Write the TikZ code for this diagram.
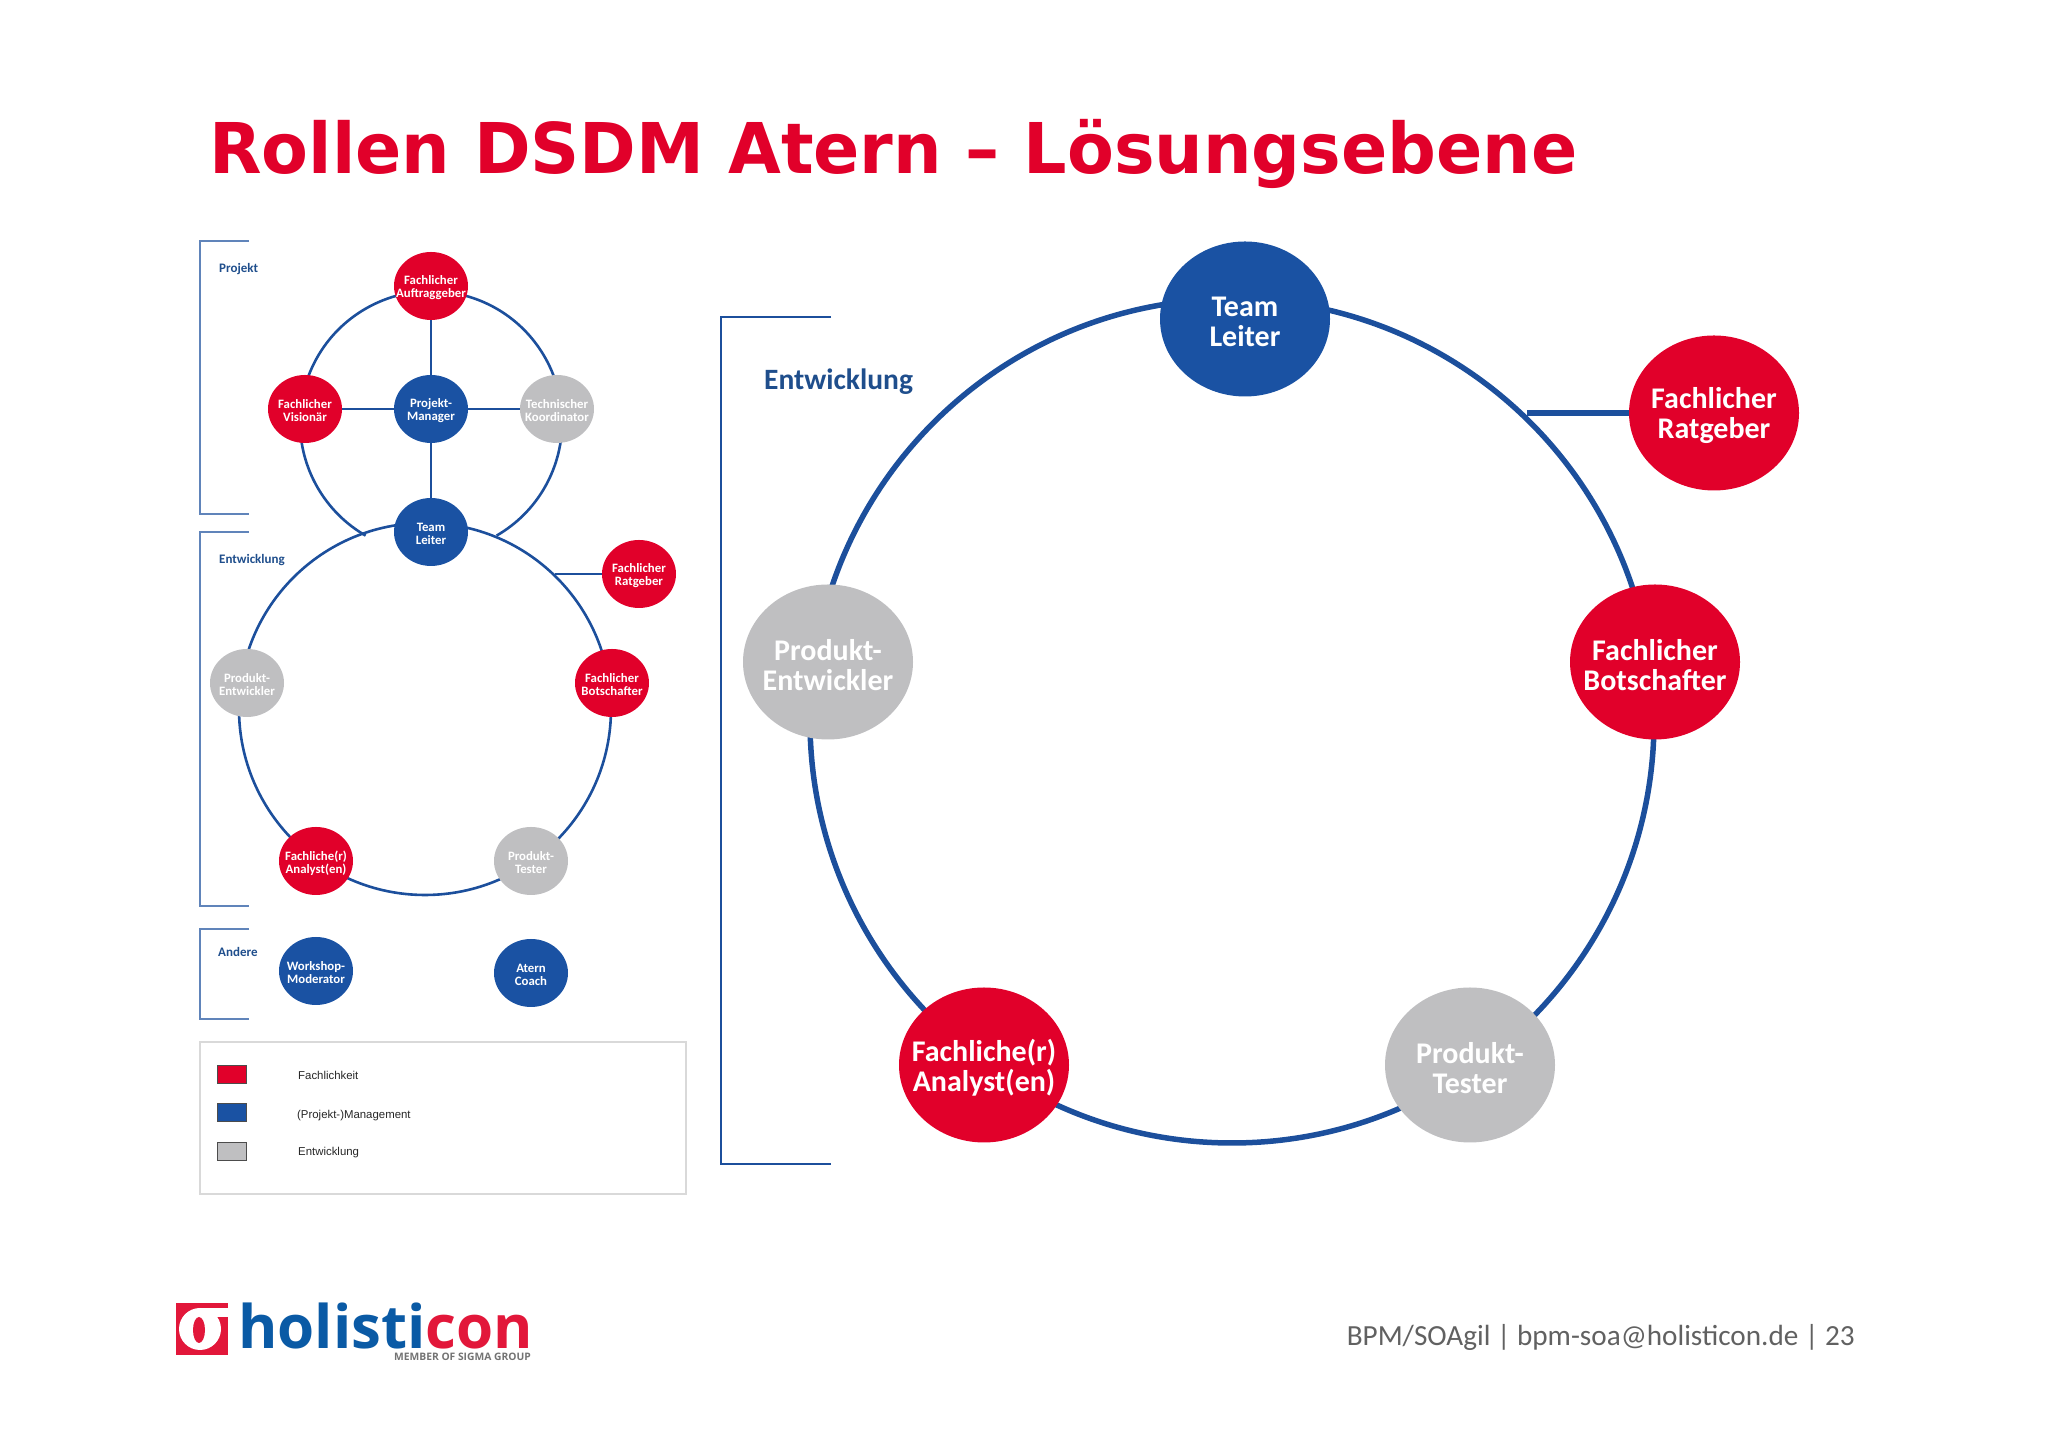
\documentclass[tikz,border=0pt]{standalone}
\usepackage{fontspec}
\setmainfont{Carlito}
\newfontfamily\titlefont[FakeStretch=0.975]{DejaVu Sans}
\newfontfamily\legendfont{Liberation Sans}
\newfontfamily\logofont{Open Sans}
\usetikzlibrary{positioning,shapes.geometric}
\definecolor{holired}{HTML}{E1002A}
\definecolor{holiblue}{HTML}{1A52A3}
\definecolor{holigray}{HTML}{BFBFC1}
\definecolor{ringblue}{HTML}{1C4F9C}
\definecolor{labelblue}{HTML}{1F4E8C}
\definecolor{logoblue}{HTML}{0A5AA5}
\definecolor{logored}{HTML}{E2173A}
\tikzset{
  smallrole/.style={ellipse,inner sep=0pt,minimum width=74pt,minimum height=68pt},
  bigrole/.style={ellipse,inner sep=0pt,minimum width=170pt,minimum height=155pt},
  smalltext/.style={inner sep=0pt,align=center,yshift=-2pt,text=white,font=\fontsize{12.8}{13}\selectfont\bfseries},
  bigtext/.style={inner sep=0pt,align=center,yshift=-3pt,text=white,font=\fontsize{30}{30}\selectfont\bfseries},
  redrole/.style={fill=holired},
  bluerole/.style={fill=holiblue},
  grayrole/.style={fill=holigray},
  smallring/.style={draw=ringblue,line width=2.6pt},
  bigring/.style={draw=ringblue,line width=5.5pt},
  bracket/.style={draw=ringblue!70,line width=1.2pt},
  grouplabel/.style={anchor=west,text=labelblue,font=\fontsize{13}{14}\selectfont\bfseries},
  legendbox/.style={draw=black!70,line width=1pt,minimum width=29pt,minimum height=18pt,inner sep=0pt},
  legendtext/.style={anchor=west,text=black!85,font=\legendfont\fontsize{11.4}{13}\selectfont}
}
\begin{document}
\begin{tikzpicture}[x=1pt,y=1pt]
  \useasboundingbox (0,0) rectangle (2048,1447);

  % title
  \node (title) [anchor=base west,inner sep=0pt,text=holired,font=\titlefont\fontsize{70}{80}\selectfont\bfseries] at (209,1273) {Rollen DSDM Atern – Lösungsebene};

  % small diagram
  \node (uppering) [circle,minimum size=262pt,inner sep=0pt] at (431,1025) {};
  \node (lowering) [circle,smallring,minimum size=372pt,inner sep=0pt] at (425,738) {};
  \draw[smallring] (uppering.-60) arc[start angle=-60,end angle=240,radius=131pt];
  \node[smallrole,redrole,label={[smalltext]center:Fachlicher\\Auftraggeber}] (sauftrag) at (431,1161) {};
  \node[smallrole,redrole,label={[smalltext]center:Fachlicher\\Visionär}] (svision) at (305,1038) {};
  \node[smallrole,bluerole,label={[smalltext]center:Projekt-\\Manager}] (smanager) at (431,1038) {};
  \node[smallrole,grayrole,label={[smalltext]center:Technischer\\Koordinator}] (skoord) at (557,1038) {};
  \node[smallrole,bluerole,label={[smalltext]center:Team\\Leiter}] (sleiter) at (431,915) {};
  \node[smallrole,redrole,label={[smalltext]center:Fachlicher\\Ratgeber}] (sratgeber) at (639,873) {};
  \node[smallrole,redrole,label={[smalltext]center:Fachlicher\\Botschafter}] (sbotschaft) at (612,764) {};
  \node[smallrole,grayrole,label={[smalltext]center:Produkt-\\Entwickler}] (sentwickler) at (247,764) {};
  \node[smallrole,redrole,label={[smalltext]center:Fachliche(r)\\Analyst(en)}] (sanalyst) at (316,586) {};
  \node[smallrole,grayrole,label={[smalltext]center:Produkt-\\Tester}] (stester) at (531,586) {};
  \node[smallrole,bluerole,label={[smalltext]center:Workshop-\\Moderator}] (sworkshop) at (316,476) {};
  \node[smallrole,bluerole,label={[smalltext]center:Atern\\Coach}] (scoach) at (531,474) {};
  \draw[smallring] (sauftrag) -- (smanager);
  \draw[smallring] (smanager) -- (sleiter);
  \draw[smallring] (svision) -- (smanager);
  \draw[smallring] (smanager) -- (skoord);
  \draw[smallring] (sratgeber) -- (sratgeber -| lowering.46);

  % group brackets
  \coordinate (pa) at (249,1206);
  \coordinate (pb) at (200,1206);
  \coordinate (pc) at (200,933);
  \coordinate (pd) at (249,933);
  \draw[bracket] (pa) -- (pb) -- (pc) -- (pd);
  \coordinate (ea) at (249,915);
  \coordinate (eb) at (200,915);
  \coordinate (ec) at (200,541);
  \coordinate (ed) at (249,541);
  \draw[bracket] (ea) -- (eb) -- (ec) -- (ed);
  \coordinate (aa) at (249,518);
  \coordinate (ab) at (200,518);
  \coordinate (ac) at (200,428);
  \coordinate (ad) at (249,428);
  \draw[bracket] (aa) -- (ab) -- (ac) -- (ad);
  \node[grouplabel,inner sep=0pt] (lprojekt) at (219,1178) {Projekt};
  \node[grouplabel,inner sep=0pt] (lentw) at (219,887) {Entwicklung};
  \node[grouplabel,inner sep=0pt] (landere) at (218,495) {Andere};

  % legend
  \node (legend) [draw=black!15,line width=1.3pt,minimum width=486pt,minimum height=152pt,inner sep=0pt] at (443,329) {};
  \node[legendbox,fill=holired] (kred) at (231.5,372) {};
  \node[legendbox,fill=holiblue] (kblue) at (231.5,334) {};
  \node[legendbox,fill=holigray] (kgray) at (231.5,295) {};
  \node[legendtext,inner sep=0pt] (tred) at (298,372) {Fachlichkeit};
  \node[legendtext,inner sep=0pt] (tblue) at (297,331) {(Projekt-)Management};
  \node[legendtext,inner sep=0pt] (tgray) at (298,294) {Entwicklung};

  % large diagram
  \node (bring) [circle,bigring,minimum size=844pt,inner sep=0pt] at (1232,726) {};
  \node[bigrole,bluerole,label={[bigtext]center:Team\\Leiter}] (bleiter) at (1245,1128) {};
  \node[bigrole,redrole,label={[bigtext]center:Fachlicher\\Ratgeber}] (bratgeber) at (1714,1034) {};
  \node[bigrole,redrole,label={[bigtext]center:Fachlicher\\Botschafter}] (bbotschaft) at (1655,785) {};
  \node[bigrole,grayrole,label={[bigtext]center:Produkt-\\Entwickler}] (bentwickler) at (828,785) {};
  \node[bigrole,redrole,label={[bigtext]center:Fachliche(r)\\Analyst(en)}] (banalyst) at (984,382) {};
  \node[bigrole,grayrole,label={[bigtext]center:Produkt-\\Tester}] (btester) at (1470,382) {};
  \draw[bigring] (bratgeber) -- (bratgeber -| bring.46.7);

  \coordinate (ba) at (831,1130);
  \coordinate (bb) at (721,1130);
  \coordinate (bc) at (721,283);
  \coordinate (bd) at (831,283);
  \draw[draw=ringblue,line width=2.2pt] (ba) -- (bb) -- (bc) -- (bd);
  \node[grouplabel,inner sep=0pt,font=\fontsize{29.5}{30}\selectfont\bfseries] (lbig) at (764,1065) {Entwicklung};

  % logo
  \node (logobox) [fill=logored,minimum width=52pt,minimum height=52pt,inner sep=0pt] at (202,118) {};
  \fill[white] (200,118) ellipse (21pt and 21pt);
  \fill[white] (200,130) rectangle (228,139);
  \fill[logored] (199,117) ellipse (6pt and 13pt);
  \node (logoa) [anchor=base west,inner sep=0pt,text=logoblue,font=\logofont\fontsize{60}{60}\selectfont\bfseries] at (238,98) {holisti};
  \node (logob) [right=0pt of logoa.base east,anchor=base west,inner sep=0pt,text=logored,font=\logofont\fontsize{60}{60}\selectfont\bfseries] {con};
  \node (logosub) [anchor=base east,inner sep=0pt,text=black!55,font=\logofont\fontsize{10.3}{10}\selectfont\bfseries] at (531,86) {MEMBER OF SIGMA GROUP};

  % footer
  \node (footer) [anchor=base east,inner sep=0pt,text=black!62,font=\fontsize{29.2}{30}\selectfont] at (1855,101) {BPM/SOAgil | bpm-soa@holisticon.de | 23};
\end{tikzpicture}
\end{document}
